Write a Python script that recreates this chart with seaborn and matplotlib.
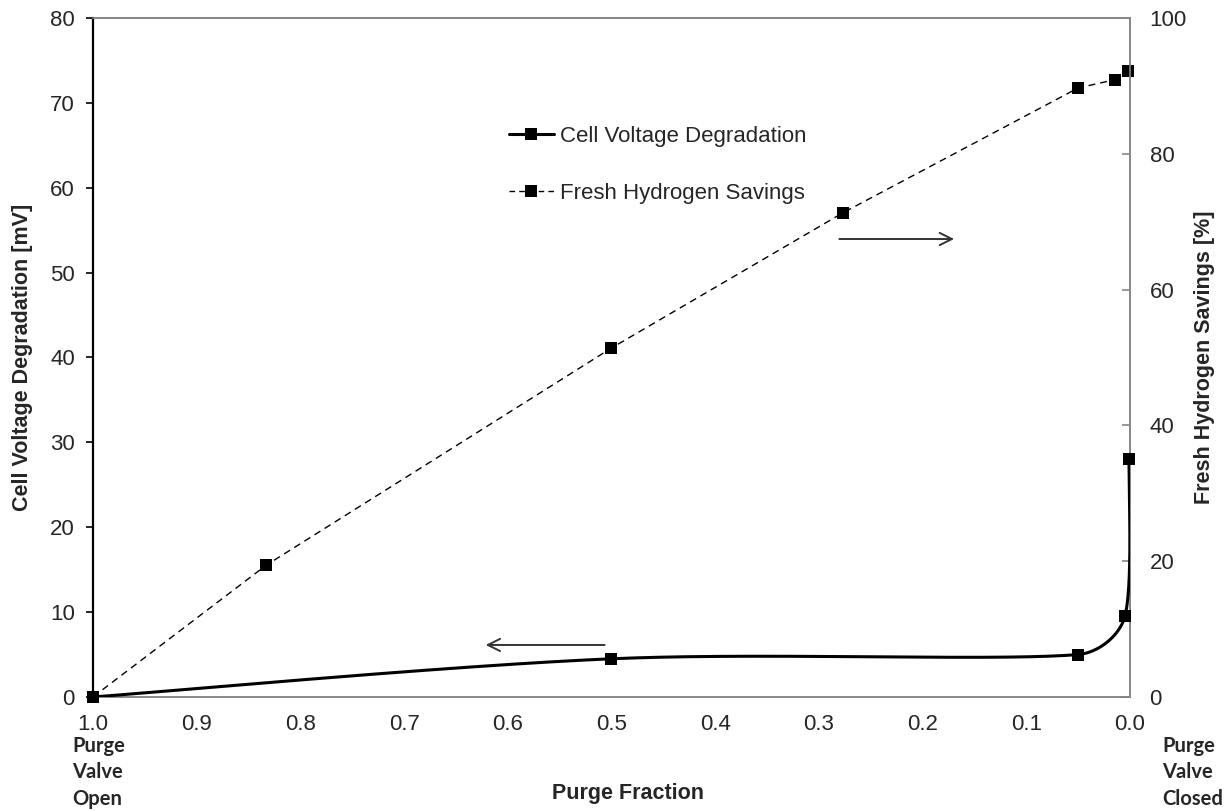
import numpy as np
import pandas as pd
import matplotlib
matplotlib.use("Agg")
import matplotlib.pyplot as plt
from matplotlib.lines import Line2D
import seaborn as sns

# Purge fraction vs. cell voltage degradation (left axis, mV)
volt_purge = [1.0, 0.5, 0.05, 0.005, 0.001]
volt_mv = [0.0, 4.5, 5.0, 9.5, 28.0]

# Purge fraction vs. fresh hydrogen savings (right axis, %)
h2_purge = [1.0, 0.833, 0.5, 0.277, 0.05, 0.015, 0.002]
h2_savings = [0.0, 19.4, 51.4, 71.3, 89.7, 90.9, 92.2]

x_ticks = [1.0, 0.9, 0.8, 0.7, 0.6, 0.5, 0.4, 0.3, 0.2, 0.1, 0.0]
left_ticks = [0, 10, 20, 30, 40, 50, 60, 70, 80]
right_ticks = [0, 20, 40, 60, 80, 100]

open_words = ["Purge", "Valve", "Open"]
closed_words = ["Purge", "Valve", "Closed"]

sns.set_style("white")
plt.rcParams["font.family"] = ["Liberation Sans", "DejaVu Sans"]

fig = plt.figure(figsize=(12.31, 8.11), dpi=100)
ax = fig.add_axes([0.0755, 0.1406, 0.8425, 0.8372])
ax2 = ax.twinx()


def smooth_curve(xs, ys, sx, sy, n=80):
    """Bezier smoothing through the points, computed in screen-scaled units.
    Tangents follow Catmull-Rom but are shortened on short segments."""
    P = np.column_stack([np.asarray(xs) * sx, np.asarray(ys) * sy])
    N = len(P)
    M = []
    for i in range(N):
        a = P[max(i - 1, 0)]
        b = P[min(i + 1, N - 1)]
        M.append((b - a) / 6.0)
    out = []
    for i in range(N - 1):
        p1, p2 = P[i], P[i + 1]
        seg = np.linalg.norm(p2 - p1)
        m1, m2 = M[i], M[i + 1]
        k1 = min(1.0, seg / (3 * np.linalg.norm(m1) + 1e-9))
        k2 = min(1.0, seg / (3 * np.linalg.norm(m2) + 1e-9))
        c1 = p1 + m1 * k1
        c2 = p2 - m2 * k2
        t = np.linspace(0, 1, n)[:, None]
        pts = ((1 - t) ** 3) * p1 + 3 * ((1 - t) ** 2) * t * c1 + 3 * (1 - t) * t ** 2 * c2 + t ** 3 * p2
        out.append(pts if i == 0 else pts[1:])
    c = np.vstack(out)
    return c[:, 0] / sx, c[:, 1] / sy


# pixels per data unit, so the smoothing follows the on-screen shape
sx, sy = 1037.5, 679 / 80.0
cx, cy = smooth_curve(volt_purge, volt_mv, sx, sy)
curve = pd.DataFrame({"purge": cx, "mv": cy})
ax.plot(curve["purge"], curve["mv"], color="black", lw=2.2, solid_capstyle="round", zorder=3)
sns.scatterplot(x=volt_purge, y=volt_mv, ax=ax, marker="s", s=85, color="black",
                edgecolor="black", linewidth=0, zorder=4, clip_on=False)

h2 = pd.DataFrame({"purge": h2_purge, "savings": h2_savings})
sns.lineplot(data=h2, x="purge", y="savings", ax=ax2, sort=False, color="black",
             lw=1.0, marker="s", markersize=9.2, markeredgewidth=0, zorder=3, clip_on=False)
ax2.lines[-1].set_dashes([5, 3.6])

ax.set_xlim(1.0, 0.0)
ax.set_ylim(0, 80)
ax2.set_ylim(0, 100)
ax.set_xticks(x_ticks)
ax.set_xticklabels([f"{v:.1f}" for v in x_ticks])
ax.set_yticks(left_ticks)
ax2.set_yticks(right_ticks)

for a in (ax, ax2):
    for s in a.spines.values():
        s.set_color("#868686")
        s.set_linewidth(1.2)
ax.spines["left"].set_color("black")
ax.spines["left"].set_linewidth(1.6)
ax2.spines["left"].set_visible(False)

ax.tick_params(axis="x", direction="in", length=6, width=1.2, color="#868686",
               labelsize=16, pad=12)
ax.tick_params(axis="y", direction="out", length=5, width=1.2, color="black",
               labelsize=16, pad=8)
ax2.tick_params(axis="y", direction="in", length=6, width=1.2, color="#868686",
                labelsize=16, pad=14)

ax.set_xlabel("")
ax2.set_xlabel("")
ax.set_ylabel("Cell Voltage Degradation [mV]", fontsize=15.5, fontweight="bold", labelpad=12)
ax2.set_ylabel("Fresh Hydrogen Savings [%]", fontsize=15.5, fontweight="bold", labelpad=5)
fig.text(628 / 1231, 1 - 793 / 811, "Purge Fraction", fontsize=15.5, fontweight="bold",
         ha="center", va="center")

# valve-state notes under both ends of the x axis, one word per line
side_font = dict(fontsize=14.5, fontweight="bold", family=["Lato", "DejaVu Sans"],
                 va="center", ha="left")
line_y = [746, 772.5, 799]
for word, yy in zip(open_words, line_y):
    fig.text(72 / 1231, 1 - yy / 811, word, **side_font)
for word, yy in zip(closed_words, line_y):
    fig.text(1162 / 1231, 1 - yy / 811, word, **side_font)

# arrows pointing each series to its axis
arrow_kw = dict(arrowstyle="->", color="#333333", lw=1.4, mutation_scale=22)
ax.annotate("", xy=(0.376, 0.0766), xytext=(0.496, 0.0766), xycoords="axes fraction",
            arrowprops=arrow_kw)
ax.annotate("", xy=(0.833, 0.6745), xytext=(0.717, 0.6745), xycoords="axes fraction",
            arrowprops=arrow_kw)

handles = [
    Line2D([], [], color="black", lw=2.2, marker="s", markersize=8.5, markeredgewidth=0),
    Line2D([], [], color="black", lw=1.0, ls=(0, (4, 3)), marker="s", markersize=8.5,
           markeredgewidth=0),
]
ax2.legend(handles, ["Cell Voltage Degradation", "Fresh Hydrogen Savings"],
           loc="upper left", bbox_to_anchor=(0.382, 0.87), frameon=False,
           fontsize=16, handlelength=2.0, handletextpad=0.3, labelspacing=1.6)

ax.set_zorder(ax2.get_zorder() + 1)
ax.patch.set_visible(False)

fig.savefig("out.png", dpi=100)
